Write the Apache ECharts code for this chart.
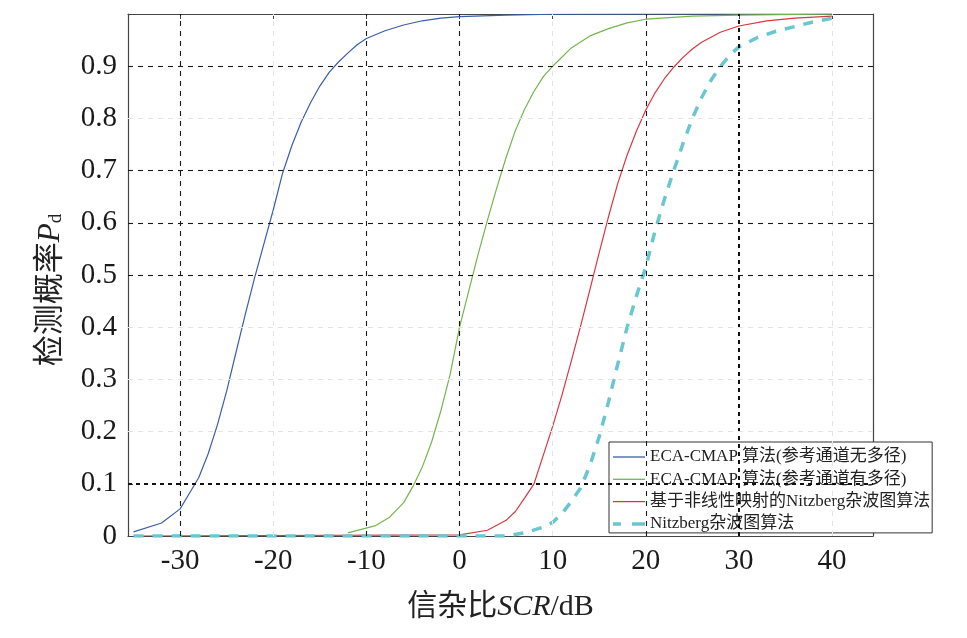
<!DOCTYPE html>
<html>
<head>
<meta charset="utf-8">
<script src="https://cdn.jsdelivr.net/npm/echarts@6/dist/echarts.min.js"></script>
<style>html,body{margin:0;padding:0;background:#fff;}#c{width:967px;height:638px;}</style>
</head>
<body>
<div id="c"></div>
<script>
// ---- data ----
const seriesNames = [
  'ECA-CMAP 算法(参考通道无多径)',
  'ECA-CMAP 算法(参考通道有多径)',
  '基于非线性映射的Nitzberg杂波图算法',
  'Nitzberg杂波图算法'
];
const blueData = [[-35,0.008],[-32,0.025],[-30,0.052],[-29,0.082],[-28,0.112],[-27,0.157],[-26,0.213],[-25,0.278],[-24,0.352],[-23,0.425],[-22,0.495],[-21,0.56],[-20,0.625],[-19,0.695],[-18,0.748],[-17,0.793],[-16,0.83],[-15,0.862],[-14,0.888],[-13,0.908],[-12,0.925],[-11,0.941],[-10,0.953],[-8,0.968],[-6,0.979],[-4,0.987],[-2,0.992],[0,0.995],[5,0.998],[10,0.9995],[20,1],[40,1]];
const greenData = [[-12,0.006],[-9,0.02],[-7.5,0.036],[-6,0.064],[-5,0.095],[-4,0.132],[-3,0.18],[-2,0.24],[-1,0.31],[0,0.4],[1,0.47],[2,0.54],[3,0.605],[4,0.667],[5,0.725],[6,0.777],[7,0.818],[8,0.852],[9,0.88],[10,0.9],[12,0.935],[14,0.958],[16,0.972],[18,0.983],[20,0.99],[25,0.996],[30,0.998],[40,1]];
const redData = [[-35,0],[0,0.002],[3,0.011],[5,0.03],[6,0.047],[7,0.073],[8,0.1],[9,0.155],[10,0.21],[11,0.27],[12,0.335],[13,0.402],[14,0.472],[15,0.543],[16,0.612],[17,0.676],[18,0.73],[19,0.776],[20,0.816],[21,0.849],[22,0.876],[23,0.898],[24,0.917],[25,0.933],[26,0.946],[28,0.965],[30,0.977],[33,0.987],[36,0.992],[40,0.996]];
const cyanData = [[-35,0],[5,0],[7,0.006],[9,0.017],[10,0.026],[11,0.043],[12,0.066],[13,0.092],[14,0.135],[15,0.19],[16,0.257],[17,0.33],[18,0.4],[19,0.46],[20,0.515],[21,0.585],[22,0.645],[23,0.7],[24,0.752],[25,0.8],[26,0.84],[27,0.873],[28,0.899],[29,0.921],[30,0.937],[32,0.955],[34,0.967],[36,0.976],[38,0.985],[40,0.992]];
const xTicks = [-30,-20,-10,0,10,20,30,40];
const yTicks = [0,0.1,0.2,0.3,0.4,0.5,0.6,0.7,0.8,0.9];
const xGridDark = [-30,-10,0,20];
const xGridBold = [30];
const xGridFaint = [-20,10,40];
const yGridDark = [0.9,0.7,0.6,0.5];
const yGridBold = [0.1];
const yGridFaint = [0.8,0.4,0.3,0.2];
const xMin = -35.6, xMax = 44.4;

// ---- chart ----
const serif = '"Liberation Serif","Times New Roman","Noto Sans CJK SC",serif';
const dark = {color:'#1a1a1a', width:1.1, type:[5,5]};
const bold = {color:'#111', width:2, type:[4,4]};
const faint = {color:'#e4e4e4', width:1, type:[5,5]};
const gridLines = [];
xGridDark.forEach(v=>gridLines.push({xAxis:v, lineStyle:dark}));
xGridBold.forEach(v=>gridLines.push({xAxis:v, lineStyle:bold}));
xGridFaint.forEach(v=>gridLines.push({xAxis:v, lineStyle:faint}));
yGridDark.forEach(v=>gridLines.push({yAxis:v, lineStyle:dark}));
yGridBold.forEach(v=>gridLines.push({yAxis:v, lineStyle:bold}));
yGridFaint.forEach(v=>gridLines.push({yAxis:v, lineStyle:faint}));

const solidIcon = 'path://M0,0h32v1.3h-32z';
const dashIcon = 'path://M0,0h8v3.5h-8z M19,0h13v3.5h-13z';

const axisLineStyle = {color:'#444', width:1.2};
const chart = echarts.init(document.getElementById('c'), null, {renderer:'canvas'});
chart.setOption({
  animation:false,
  backgroundColor:'#fff',
  grid:{left:128, top:14, right:94, bottom:102, containLabel:false},
  xAxis:[{
    type:'value', min:xMin, max:xMax, position:'bottom',
    axisLine:{show:true, onZero:false, lineStyle:axisLineStyle},
    axisTick:{show:true, inside:true, length:5, customValues:xTicks, lineStyle:{color:'#444'}},
    axisLabel:{customValues:xTicks, fontFamily:serif, fontSize:29, color:'#1a1a1a', margin:11,
      formatter:v=>String(v)},
    splitLine:{show:false},
    name:'{a|信杂比}{i|SCR}{a|/dB}', nameLocation:'middle', nameGap:56,
    nameTextStyle:{rich:{
      a:{fontFamily:serif, fontSize:30, color:'#222'},
      i:{fontFamily:serif, fontSize:30, fontStyle:'italic', color:'#222'}
    }}
  },{
    type:'value', min:xMin, max:xMax, position:'top',
    axisLine:{show:true, onZero:false, lineStyle:axisLineStyle},
    axisTick:{show:true, inside:true, length:5, customValues:xTicks, lineStyle:{color:'#444'}},
    axisLabel:{show:false}, splitLine:{show:false}
  }],
  yAxis:[{
    type:'value', min:0, max:1, interval:0.1, position:'left',
    axisLine:{show:true, onZero:false, lineStyle:axisLineStyle},
    axisTick:{show:true, inside:true, length:5, lineStyle:{color:'#444'}},
    axisLabel:{fontFamily:serif, fontSize:29, color:'#1a1a1a', margin:11,
      formatter:v=>{ if (v>=0.999) return ''; if (v===0) return '0'; return (Math.round(v*10)/10).toFixed(1);} },
    splitLine:{show:false},
    name:'{a|检测概率}{i|P}{s|d}', nameLocation:'middle', nameGap:62, nameRotate:90,
    nameTextStyle:{padding:[0,30,0,0], rich:{
      a:{fontFamily:serif, fontSize:31, color:'#222'},
      i:{fontFamily:serif, fontSize:31, fontStyle:'italic', color:'#222'},
      s:{fontFamily:serif, fontSize:19, color:'#222', padding:[12,0,0,0]}
    }}
  },{
    type:'value', min:0, max:1, interval:0.1, position:'right',
    axisLine:{show:true, onZero:false, lineStyle:axisLineStyle},
    axisTick:{show:true, inside:true, length:5, lineStyle:{color:'#444'}},
    axisLabel:{show:false}, splitLine:{show:false}
  }],
  legend:{
    orient:'vertical', left:609, top:442,
    data:[
      {name:seriesNames[0], icon:solidIcon},
      {name:seriesNames[1], icon:solidIcon},
      {name:seriesNames[2], icon:solidIcon},
      {name:seriesNames[3], icon:dashIcon}
    ],
    backgroundColor:'#fff', borderColor:'#333', borderWidth:1,
    padding:[6,2,0,4], itemGap:4.3, itemWidth:32, itemHeight:14,
    textStyle:{fontFamily:serif, fontSize:17, lineHeight:18, color:'#222'}
  },
  series:[
    {name:'grid', type:'line', data:[], z:1, silent:true,
      markLine:{silent:true, symbol:['none','none'], label:{show:false}, data:gridLines, animation:false}},
    {name:seriesNames[0], type:'line', data:blueData, showSymbol:false, symbol:'none', z:3,
      lineStyle:{color:'#3b5ea8', width:1.2}, itemStyle:{color:'#3b5ea8'}},
    {name:seriesNames[1], type:'line', data:greenData, showSymbol:false, symbol:'none', z:3,
      lineStyle:{color:'#74b54d', width:1.2}, itemStyle:{color:'#74b54d'}},
    {name:seriesNames[2], type:'line', data:redData, showSymbol:false, symbol:'none', z:3,
      lineStyle:{color:'#d8383d', width:1.2}, itemStyle:{color:'#d8383d'}},
    {name:seriesNames[3], type:'line', data:cyanData, showSymbol:false, symbol:'none', z:4,
      lineStyle:{color:'#6ac6d1', width:3.5, type:[10,9]}, itemStyle:{color:'#6ac6d1'}}
  ]
});
</script>
</body>
</html>
